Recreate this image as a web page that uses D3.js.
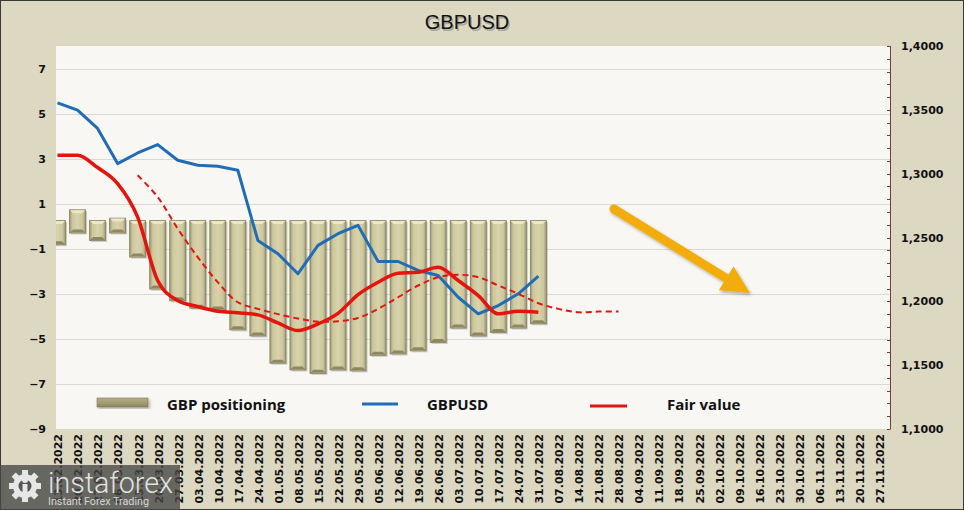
<!DOCTYPE html>
<html>
<head>
<meta charset="utf-8">
<script src="https://cdn.jsdelivr.net/npm/d3@7"></script>
<style>
  html, body { margin: 0; padding: 0; background: #dcd8c1; }
  svg { display: block; }
</style>
</head>
<body>
<svg id="chart" width="964" height="510"></svg>
<script>
// ---------------- DATA ----------------
const weekLabels = [
  "13.02.2022","20.02.2022","27.02.2022","06.03.2022","13.03.2022","20.03.2022","27.03.2022",
  "03.04.2022","10.04.2022","17.04.2022","24.04.2022","01.05.2022","08.05.2022","15.05.2022",
  "22.05.2022","29.05.2022","05.06.2022","12.06.2022","19.06.2022","26.06.2022","03.07.2022",
  "10.07.2022","17.07.2022","24.07.2022","31.07.2022","07.08.2022","14.08.2022","21.08.2022",
  "28.08.2022","04.09.2022","11.09.2022","18.09.2022","25.09.2022","02.10.2022","09.10.2022",
  "16.10.2022","23.10.2022","30.10.2022","06.11.2022","13.11.2022","20.11.2022","27.11.2022"
];

// GBP positioning (left axis), one value per week from 13.02.2022
const gbpPositioning = [
  -0.82, 0.73, -0.63, 0.36, -1.37, -2.79, -3.31, -3.64, -3.72, -4.60, -4.87, -6.08, -6.38,
  -6.53, -6.38, -6.42, -5.73, -5.67, -5.53, -5.16, -4.52, -4.87, -4.72, -4.52, -4.33
];
const barBaseNegative = 0.25;   // where falling bars start on the left axis
const barBasePositive = -0.30;  // where rising bars start on the left axis

// GBPUSD (right axis)
const gbpusd = [
  1.3555, 1.3498, 1.3354, 1.3079, 1.3162, 1.3228, 1.3105, 1.3066, 1.3058, 1.3027, 1.2477,
  1.2373, 1.2216, 1.2438, 1.2530, 1.2595, 1.2312, 1.2312, 1.2242, 1.2202, 1.2032, 1.1902,
  1.1967, 1.2059, 1.2197
];

// Fair value (right axis)
const fairValue = [
  1.3144, 1.3144, 1.3048, 1.2922, 1.2660, 1.2163, 1.2006, 1.1959, 1.1922, 1.1910, 1.1894,
  1.1831, 1.1771, 1.1823, 1.1906, 1.2053, 1.2150, 1.2220, 1.2228, 1.2267, 1.2163, 1.2045,
  1.1902, 1.1922, 1.1914
];

// Fair value trend (dashed, right axis), starts at week index 4 (13.03.2022)
const fairTrendStart = 4;
const fairTrend = [
  1.2987, 1.2817, 1.2569, 1.2346, 1.2150, 1.1993, 1.1941, 1.1900, 1.1865, 1.1841, 1.1844,
  1.1870, 1.1941, 1.2032, 1.2124, 1.2189, 1.2208, 1.2189, 1.2124, 1.2059, 1.1985, 1.1941,
  1.1914, 1.1920, 1.1920
];

const leftTicks = [-9, -7, -5, -3, -1, 1, 3, 5, 7];
const rightTicks = [1.10, 1.15, 1.20, 1.25, 1.30, 1.35, 1.40];
const legendItems = ["GBP positioning", "GBPUSD", "Fair value"];
const titleText = "GBPUSD";

// ---------------- LAYOUT ----------------
const W = 964, H = 510;
const plot = { left: 56, right: 890, top: 46, bottom: 429 };

const svg = d3.select("#chart");
const defs = svg.append("defs");

const x = d3.scalePoint().domain(weekLabels).range([57.5, 879]);
const yL = d3.scaleLinear().domain([-9, 8]).range([plot.bottom, plot.top]);
const yR = d3.scaleLinear().domain([1.1, 1.4]).range([plot.bottom, plot.top]);

// background
svg.append("rect").attr("x", 0).attr("y", 0).attr("width", W).attr("height", H).attr("fill", "#dcd8c1");
svg.append("rect").attr("x", plot.left).attr("y", plot.top)
  .attr("width", plot.right - plot.left).attr("height", plot.bottom - plot.top)
  .attr("fill", "#f8f7f3");

// clip
defs.append("clipPath").attr("id", "plotClip").append("rect")
  .attr("x", plot.left).attr("y", plot.top)
  .attr("width", plot.right - plot.left).attr("height", plot.bottom - plot.top);

// gridlines
svg.append("g").selectAll("line").data(leftTicks.filter(d => d > -9)).join("line")
  .attr("x1", plot.left).attr("x2", plot.right)
  .attr("y1", d => Math.round(yL(d)) + 0.5).attr("y2", d => Math.round(yL(d)) + 0.5)
  .attr("stroke", "#d9d8d4").attr("stroke-width", 1);

// title
svg.append("text").attr("x", 467).attr("y", 29).attr("text-anchor", "middle")
  .attr("font-family", "Liberation Sans, Arial, sans-serif").attr("font-size", 20)
  .attr("fill", "#9a9a90").attr("opacity", 0.8).attr("transform", "translate(1.5,1.5)").text(titleText);
svg.append("text").attr("x", 467).attr("y", 29).attr("text-anchor", "middle")
  .attr("font-family", "Liberation Sans, Arial, sans-serif").attr("font-size", 20)
  .attr("fill", "#111").text(titleText);

// left axis labels
const leftAxis = d3.axisLeft(yL).tickValues(leftTicks).tickSize(0).tickPadding(0).tickFormat(d3.format("d"));
const gL = svg.append("g").attr("transform", "translate(46,0)").call(leftAxis);
gL.select(".domain").remove();
gL.selectAll("text").attr("font-family", "DejaVu Sans, Verdana, sans-serif")
  .attr("font-weight", "bold").attr("font-size", 11).attr("fill", "#111");

// right axis
const minorTicks = d3.range(1.10, 1.4001, 0.01);
const gR = svg.append("g").attr("transform", `translate(${plot.right},0)`);
gR.append("line").attr("x1", 0.5).attr("x2", 0.5).attr("y1", plot.top).attr("y2", plot.bottom)
  .attr("stroke", "#7a3b32").attr("stroke-width", 1);
gR.selectAll("line.mt").data(minorTicks).join("line").attr("class", "mt")
  .attr("x1", -3).attr("x2", 0.5)
  .attr("y1", d => Math.round(yR(d)) + 0.5).attr("y2", d => Math.round(yR(d)) + 0.5)
  .attr("stroke", "#7a3b32").attr("stroke-width", 1);
const rightAxis = d3.axisRight(yR).tickValues(rightTicks).tickSize(0).tickPadding(11)
  .tickFormat(d => d3.format(".4f")(d).replace(".", ","));
const gRA = svg.append("g").attr("transform", `translate(${plot.right},0)`).call(rightAxis);
gRA.select(".domain").remove();
gRA.selectAll("text").attr("font-family", "DejaVu Sans, Verdana, sans-serif")
  .attr("font-weight", "bold").attr("font-size", 11).attr("fill", "#111");

// x axis labels
svg.append("g").selectAll("text").data(weekLabels).join("text")
  .attr("transform", d => `translate(${x(d) + 1},434) rotate(-90)`)
  .attr("text-anchor", "end").attr("dy", "0.35em")
  .attr("font-family", "DejaVu Sans, Verdana, sans-serif").attr("font-weight", "bold")
  .attr("font-size", 11).attr("fill", "#111").text(d => d);

// bar gradients
const gradH = defs.append("linearGradient").attr("id", "barGrad").attr("x1", 0).attr("x2", 1).attr("y1", 0).attr("y2", 0);
[["0%", "#9c9772"], ["18%", "#cdc79d"], ["50%", "#d8d3ab"], ["82%", "#cdc79d"], ["100%", "#9c9772"]]
  .forEach(([o, c]) => gradH.append("stop").attr("offset", o).attr("stop-color", c));
const gradLeg = defs.append("linearGradient").attr("id", "legGrad").attr("x1", 0).attr("x2", 0).attr("y1", 0).attr("y2", 1);
[["0%", "#b2ad84"], ["50%", "#a39e74"], ["100%", "#8a855e"]]
  .forEach(([o, c]) => gradLeg.append("stop").attr("offset", o).attr("stop-color", c));

// bars
const barW = 16;
const barData = gbpPositioning.map((v, i) => {
  const base = v >= 0 ? barBasePositive : barBaseNegative;
  return { label: weekLabels[i], y0: yL(Math.max(v, base)), y1: yL(Math.min(v, base)) };
});
const gBars = svg.append("g").attr("clip-path", "url(#plotClip)");
const bar = gBars.selectAll("g").data(barData).join("g");
bar.append("rect").attr("x", d => x(d.label) - barW / 2 + 1.5).attr("y", d => d.y0 + 1.5)
  .attr("width", barW).attr("height", d => d.y1 - d.y0).attr("fill", "rgba(0,0,0,0.18)");
bar.append("rect").attr("x", d => x(d.label) - barW / 2).attr("y", d => d.y0)
  .attr("width", barW).attr("height", d => d.y1 - d.y0)
  .attr("fill", "url(#barGrad)").attr("stroke", "#85805b").attr("stroke-width", 0.8);
bar.append("path").attr("d", d => {
  const l = x(d.label) - barW / 2 + 0.5, r = x(d.label) + barW / 2 - 0.5, t = d.y0 + 0.5;
  return `M${l},${t}L${r},${t}L${r - 3},${t + 3}L${l + 3},${t + 3}Z`;
}).attr("fill", "#ece7c6");
bar.append("path").attr("d", d => {
  const l = x(d.label) - barW / 2 + 0.5, r = x(d.label) + barW / 2 - 0.5, b = d.y1 - 0.5;
  return `M${l},${b}L${r},${b}L${r - 3},${b - 3}L${l + 3},${b - 3}Z`;
}).attr("fill", "#8d8862");

// lines
const gLines = svg.append("g").attr("clip-path", "url(#plotClip)");
const lineBlue = d3.line().x((d, i) => x(weekLabels[i])).y(d => yR(d));
gLines.append("path").datum(gbpusd).attr("d", lineBlue)
  .attr("fill", "none").attr("stroke", "#1f6db5").attr("stroke-width", 3).attr("stroke-linejoin", "round");

const lineRed = d3.line().x((d, i) => x(weekLabels[i])).y(d => yR(d)).curve(d3.curveMonotoneX);
gLines.append("path").datum(fairValue).attr("d", lineRed)
  .attr("fill", "none").attr("stroke", "#e5140c").attr("stroke-width", 3.5).attr("stroke-linejoin", "round");

const lineTrend = d3.line().x((d, i) => x(weekLabels[i + fairTrendStart])).y(d => yR(d)).curve(d3.curveCatmullRom);
gLines.append("path").datum(fairTrend).attr("d", lineTrend)
  .attr("fill", "none").attr("stroke", "#e5140c").attr("stroke-width", 2).attr("stroke-dasharray", "6,4");

// orange arrow
const shadow = defs.append("filter").attr("id", "shadow").attr("x", "-20%").attr("y", "-20%").attr("width", "140%").attr("height", "140%");
shadow.append("feDropShadow").attr("dx", 1.5).attr("dy", 2).attr("stdDeviation", 1.5).attr("flood-color", "#000").attr("flood-opacity", 0.3);
const ax0 = [614, 209], ax1 = [750, 293];
const ang = Math.atan2(ax1[1] - ax0[1], ax1[0] - ax0[0]);
const headLen = 28, headHalf = 14, shaftHalf = 4.5;
const ux = Math.cos(ang), uy = Math.sin(ang), px = -uy, py = ux;
const hb = [ax1[0] - ux * headLen, ax1[1] - uy * headLen];
const arrowPath = [
  [ax0[0] + px * shaftHalf, ax0[1] + py * shaftHalf],
  [hb[0] + px * shaftHalf, hb[1] + py * shaftHalf],
  [hb[0] + px * headHalf, hb[1] + py * headHalf],
  ax1,
  [hb[0] - px * headHalf, hb[1] - py * headHalf],
  [hb[0] - px * shaftHalf, hb[1] - py * shaftHalf],
  [ax0[0] - px * shaftHalf, ax0[1] - py * shaftHalf]
];
const ga = svg.append("g").attr("filter", "url(#shadow)");
ga.append("path").attr("d", "M" + arrowPath.map(p => p.join(",")).join("L") + "Z").attr("fill", "#f2ad10");
ga.append("circle").attr("cx", ax0[0]).attr("cy", ax0[1]).attr("r", shaftHalf).attr("fill", "#f2ad10");

// legend
const legendFont = "'Open Sans', Lato, sans-serif";
svg.append("rect").attr("x", 97).attr("y", 398).attr("width", 51).attr("height", 9)
  .attr("fill", "url(#legGrad)").attr("stroke", "#7f7a55").attr("stroke-width", 0.6).attr("filter", "url(#shadow)");
svg.append("line").attr("x1", 362).attr("x2", 398).attr("y1", 404).attr("y2", 404)
  .attr("stroke", "#1f6db5").attr("stroke-width", 3);
svg.append("line").attr("x1", 590).attr("x2", 627).attr("y1", 406).attr("y2", 406)
  .attr("stroke", "#e5140c").attr("stroke-width", 3);
const legendX = [167, 427, 667];
svg.append("g").selectAll("text").data(legendItems).join("text")
  .attr("x", (d, i) => legendX[i]).attr("y", 410)
  .attr("font-family", legendFont).attr("font-weight", "bold").attr("font-size", 15)
  .attr("fill", "#111").text(d => d);

// outer border
svg.append("rect").attr("x", 0.5).attr("y", 0.5).attr("width", W - 1).attr("height", H - 1)
  .attr("fill", "none").attr("stroke", "#3a3a3a").attr("stroke-width", 1);

// watermark
const wm = svg.append("g");
wm.append("rect").attr("x", 0).attr("y", 465).attr("width", 180).attr("height", 45).attr("fill", "rgba(70,70,70,0.78)");
const gear = wm.append("g").attr("transform", "translate(25,486)");
d3.range(8).forEach(k => {
  gear.append("rect").attr("x", -3).attr("y", -16).attr("width", 6).attr("height", 7)
    .attr("fill", "#e6e6e6").attr("transform", `rotate(${k * 45})`);
});
gear.append("circle").attr("r", 12).attr("fill", "#e6e6e6");
gear.append("circle").attr("r", 6.5).attr("fill", "#555");
gear.append("path").attr("d", "M-2.5,-2 L2.5,-2 L2.5,13 L-2.5,13 Z").attr("fill", "#e6e6e6");
gear.append("circle").attr("cx", 0).attr("cy", -6).attr("r", 3).attr("fill", "#e6e6e6");
wm.append("text").attr("x", 48).attr("y", 493).attr("font-family", "Roboto, sans-serif")
  .attr("font-weight", 300).attr("font-size", 30).attr("textLength", 125).attr("lengthAdjust", "spacingAndGlyphs")
  .attr("fill", "#e2e2e2").text("instaforex");
wm.append("text").attr("x", 48).attr("y", 505).attr("font-family", "Roboto, sans-serif")
  .attr("font-size", 11.5).attr("textLength", 101).attr("lengthAdjust", "spacingAndGlyphs")
  .attr("fill", "#d6d6d6").text("Instant Forex Trading");
</script>
</body>
</html>
